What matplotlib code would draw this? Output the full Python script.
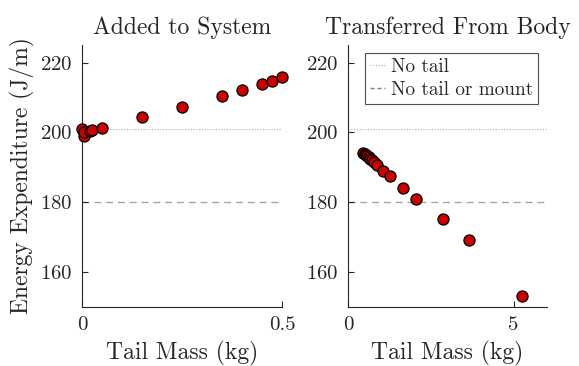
import matplotlib
matplotlib.use("Agg")
import matplotlib.pyplot as plt
from matplotlib.lines import Line2D

plt.rcParams['font.family'] = ['cmr10', 'DejaVu Serif']
plt.rcParams['mathtext.fontset'] = 'cm'
plt.rcParams['axes.formatter.use_mathtext'] = True

# Data
added_mass = [0.0, 0.005, 0.005, 0.02, 0.025, 0.05, 0.15, 0.25, 0.35, 0.40, 0.45, 0.475, 0.50]
added_energy = [200.9, 199.0, 200.0, 200.4, 200.6, 201.2, 204.3, 207.4, 210.5, 212.2, 214.0, 214.8, 215.9]

transf_mass = [0.45, 0.50, 0.54, 0.58, 0.62, 0.67, 0.72, 0.77, 0.86, 1.05, 1.25, 1.65, 2.06, 2.85, 3.65, 5.24]
transf_energy = [194.2, 193.9, 193.6, 193.2, 192.9, 192.4, 192.0, 191.5, 190.7, 189.0, 187.4, 184.1, 181.0, 175.2, 169.1, 153.1]

no_tail = 201.0
no_tail_mount = 180.0

titles = ["Added to System", "Transferred From Body"]
xlabel = "Tail Mass (kg)"
ylabel = "Energy Expenditure (J/m)"
legend_labels = ["No tail", "No tail or mount"]
yticks = [160, 180, 200, 220]

W, H = 579, 366
fig = plt.figure(figsize=(W / 100, H / 100), dpi=100)
bottom = (H - 306.7) / H
height = (306.7 - 45.3) / H
ax1 = fig.add_axes([82.3 / W, bottom, 199.7 / W, height])
ax2 = fig.add_axes([348.3 / W, bottom, 198.4 / W, height])

fs_title = 17
fs_label = 17
fs_tick = 15
fs_leg = 13.8
txt = '#262626'
red = '#c80000'

for ax, xs, ys, title, xlim, xticks, xtl in [
    (ax1, added_mass, added_energy, titles[0], (0, 0.5), [0, 0.5], ['0', '0.5']),
    (ax2, transf_mass, transf_energy, titles[1], (0, 6), [0, 5], ['0', '5']),
]:
    ax.axhline(no_tail, color='#b3b3b3', linestyle=(0, (1, 1.5)), linewidth=0.8, zorder=1)
    ax.axhline(no_tail_mount, color='#a6a6a6', linestyle=(0, (5, 3.5)), linewidth=1.0, zorder=1)
    ax.scatter(xs, ys, s=64, facecolor=red, edgecolor='black', linewidth=0.9, zorder=3, clip_on=False)
    ax.set_xlim(*xlim)
    ax.set_ylim(150, 225)
    ax.set_xticks(xticks)
    ax.set_xticklabels(xtl)
    ax.set_yticks(yticks)
    ax.set_title(title, fontsize=fs_title, color=txt, pad=8)
    ax.set_xlabel(xlabel, fontsize=fs_label, color=txt, labelpad=5)
    for s in ['top', 'right']:
        ax.spines[s].set_visible(False)
    for s in ['left', 'bottom']:
        ax.spines[s].set_color(txt)
        ax.spines[s].set_linewidth(0.8)
    ax.tick_params(direction='in', length=4, width=0.8, colors=txt, labelsize=fs_tick, pad=7)

ax1.set_ylabel(ylabel, fontsize=fs_label, color=txt, labelpad=4)

handles = [Line2D([], [], color='#b3b3b3', linestyle=(0, (1, 1.5)), linewidth=0.8),
           Line2D([], [], color='#808080', linestyle=(0, (3, 2)), linewidth=1.0)]
leg = ax2.legend(handles, legend_labels, loc='upper right', bbox_to_anchor=(0.955, 0.969),
                 fontsize=fs_leg, frameon=True, fancybox=False, handlelength=0.8,
                 handletextpad=0.3, borderpad=0.25, labelspacing=0.25, borderaxespad=0)
leg.get_frame().set_edgecolor(txt)
leg.get_frame().set_linewidth(0.8)
for t in leg.get_texts():
    t.set_color(txt)

fig.savefig('out.png', dpi=100)
